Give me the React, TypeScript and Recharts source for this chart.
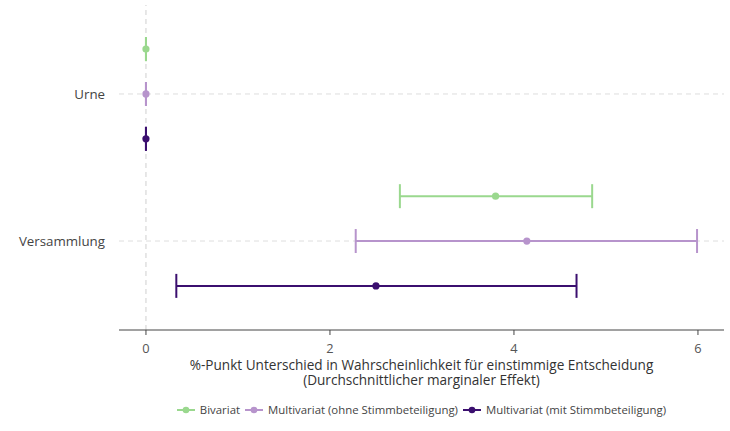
import React from "react";
import { ScatterChart, Scatter, XAxis, YAxis, ErrorBar, ReferenceLine } from "recharts";

// Kategorien (oben nach unten)
const categories = ["Urne", "Versammlung"];

// Punktschätzer und Konfidenzintervalle je Modell
const bivariatEst = [0.0, 3.8];
const bivariatLow = [0.0, 2.76];
const bivariatHigh = [0.0, 4.85];

const ohneEst = [0.0, 4.14];
const ohneLow = [0.0, 2.28];
const ohneHigh = [0.0, 5.99];

const mitEst = [0.0, 2.5];
const mitLow = [0.0, 0.33];
const mitHigh = [0.0, 4.68];

const xTicks = [0, 2, 4, 6];

const FONT = "'Open Sans', sans-serif";

const series = [
  { name: "Bivariat", color: "#9ad88e", est: bivariatEst, low: bivariatLow, high: bivariatHigh, dodge: 0.305 },
  { name: "Multivariat (ohne Stimmbeteiligung)", color: "#b794cc", est: ohneEst, low: ohneLow, high: ohneHigh, dodge: 0 },
  { name: "Multivariat (mit Stimmbeteiligung)", color: "#3b0f6f", est: mitEst, low: mitLow, high: mitHigh, dodge: -0.305 },
];

// Urne oben -> höchster y-Wert
const catPos = (i: number) => categories.length - i;

const buildRows = (s: typeof series[number]) =>
  categories.map((c, i) => ({
    category: c,
    x: s.est[i],
    y: catPos(i) + s.dodge,
    err: [s.est[i] - s.low[i], s.high[i] - s.est[i]],
  }));

const AxisTitle = (props: any) => {
  const vb = props.viewBox || {};
  const cx = vb.x + vb.width / 2;
  return (
    <g fontFamily={FONT} fontSize={13.6} fill="#333" textAnchor="middle">
      <text x={cx} y={vb.y + 39.5}>%-Punkt Unterschied in Wahrscheinlichkeit für einstimmige Entscheidung</text>
      <text x={cx} y={vb.y + 54.5}>(Durchschnittlicher marginaler Effekt)</text>
    </g>
  );
};

export default function App() {
  return (
    <div style={{ position: "absolute", left: 0, top: 0, width: 730, height: 431, background: "#fff", fontFamily: FONT }}>
      <ScatterChart width={730} height={431} margin={{ top: 5, right: 6, bottom: 0, left: 0 }}>
        <XAxis
          type="number"
          dataKey="x"
          domain={[-0.293, 6.283]}
          ticks={xTicks}
          allowDataOverflow
          height={101}
          stroke="#444"
          tickSize={5}
          tickMargin={9}
          tick={{ fontSize: 12.8, fill: "#555", fontFamily: FONT }}
          label={{ content: AxisTitle }}
        />
        <YAxis
          type="number"
          dataKey="y"
          domain={[0.395, 2.605]}
          ticks={[1, 2]}
          allowDataOverflow
          width={119}
          axisLine={false}
          tickLine={false}
          tickSize={0}
          tickMargin={14}
          tickFormatter={(v: number) => categories[categories.length - v]}
          tick={{ fontSize: 13.3, fill: "#444", fontFamily: FONT }}
        />
        {categories.map((c, i) => (
          <ReferenceLine key={c} y={catPos(i)} stroke="#dedede" strokeDasharray="5 4" />
        ))}
        <ReferenceLine x={0} stroke="#cfcfcf" strokeDasharray="5 4" />
        {series.map((s) => (
          <Scatter
            key={s.name}
            name={s.name}
            data={buildRows(s)}
            fill={s.color}
            isAnimationActive={false}
            shape={(p: any) => <circle cx={p.cx} cy={p.cy} r={3.6} fill={s.color} />}
          >
            <ErrorBar dataKey="err" direction="x" width={12} stroke={s.color} strokeWidth={2} isAnimationActive={false} />
          </Scatter>
        ))}
      </ScatterChart>
      <div
        style={{
          position: "absolute",
          top: 402,
          left: 0,
          width: 846,
          display: "flex",
          justifyContent: "center",
          alignItems: "center",
          fontSize: 11.4,
          color: "#444",
          whiteSpace: "nowrap",
        }}
      >
        {series.map((s) => (
          <div key={s.name} style={{ display: "flex", alignItems: "center", marginRight: 4 }}>
            <svg width={20} height={14} style={{ marginRight: 4 }}>
              <line x1={1} y1={7} x2={19} y2={7} stroke={s.color} strokeWidth={2} />
              <circle cx={10} cy={7} r={3.3} fill={s.color} />
            </svg>
            <span>{s.name}</span>
          </div>
        ))}
      </div>
    </div>
  );
}
